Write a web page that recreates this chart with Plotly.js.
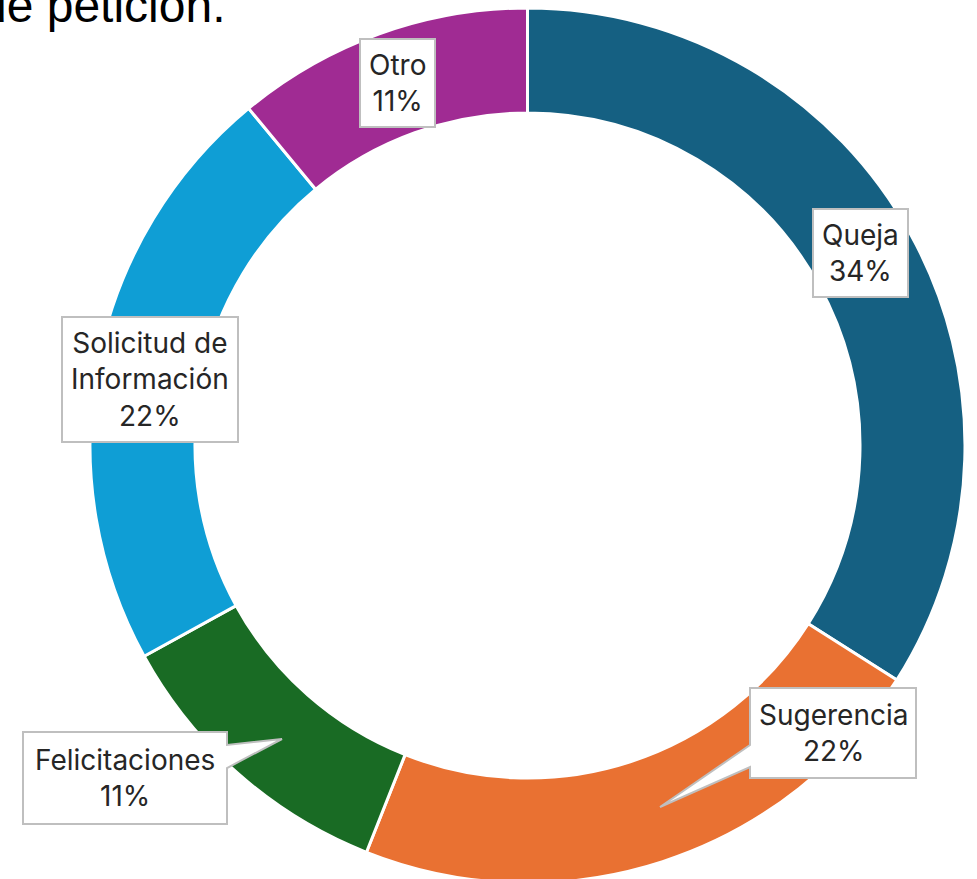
<!DOCTYPE html>
<html>
<head>
<meta charset="utf-8">
<script src="https://cdn.plot.ly/plotly-3.0.1.min.js"></script>
<style>
html,body{margin:0;padding:0;overflow:hidden;background:#fff;}
#chart{width:977px;height:890px;}
</style>
</head>
<body>
<div id="chart"></div>
<script>
// ---- data ----
const categories = ['Queja', 'Sugerencia', 'Felicitaciones', 'Solicitud de Información', 'Otro'];
const labelLines = ['Queja', 'Sugerencia', 'Felicitaciones', 'Solicitud de<br>Información', 'Otro'];
const values = [34, 22, 11, 22, 11];
const colors = ['#156082', '#E97132', '#196B24', '#0F9ED5', '#A02B93'];
const titleText = 'de petición.';

// ---- layout helpers (pixel -> paper) ----
const W = 977, H = 890;
const px = x => x / W;
const py = y => 1 - y / H;

const total = values.reduce((a, b) => a + b, 0);
const pct = values.map(v => Math.round(v / total * 100) + '%');

// label box centres (pixels) and whether a callout pointer is drawn
const labelPos = [
  {x: 860, y: 253, callout: null},
  {x: 833, y: 733, callout: 'M750,688 L916,688 L916,778 L750,778 L750,767 L660,807 L750,745 Z'},
  {x: 125, y: 778, callout: 'M23,732 L227,732 L227,745 L282,739 L227,768 L227,824 L23,824 Z'},
  {x: 150, y: 379, callout: null},
  {x: 397, y: 83, callout: null}
];

function toPaperPath(p) {
  return p.replace(/(-?\d+(?:\.\d+)?),(-?\d+(?:\.\d+)?)/g,
    (m, a, b) => px(+a).toFixed(5) + ',' + py(+b).toFixed(5));
}

const labelFont = {family: 'Inter, "Noto Sans", sans-serif', size: 28, color: '#262626'};

const annotations = categories.map((c, i) => {
  const p = labelPos[i];
  const a = {
    xref: 'paper', yref: 'paper', x: px(p.x), y: py(p.y),
    xanchor: 'center', yanchor: 'middle',
    text: labelLines[i] + '<br>' + pct[i],
    showarrow: false, font: labelFont, align: 'center',
    borderpad: 8
  };
  if (!p.callout) {
    a.bgcolor = '#ffffff';
    a.bordercolor = '#bfbfbf';
    a.borderwidth = 2;
  }
  return a;
});

annotations.push({
  xref: 'paper', yref: 'paper', x: px(-22), y: py(5),
  xanchor: 'left', yanchor: 'middle', showarrow: false,
  text: titleText,
  font: {family: '"Liberation Sans", Arial, sans-serif', size: 48, color: '#000000'}
});

const shapes = labelPos.filter(p => p.callout).map(p => ({
  type: 'path', xref: 'paper', yref: 'paper', layer: 'above',
  path: toPaperPath(p.callout),
  fillcolor: '#ffffff',
  line: {color: '#bfbfbf', width: 2}
}));

const trace = {
  type: 'pie',
  labels: categories,
  values: values,
  sort: false,
  direction: 'clockwise',
  rotation: 0,
  hole: 0.76,
  textinfo: 'none',
  hoverinfo: 'label+percent',
  marker: {colors: colors, line: {color: '#ffffff', width: 3}},
  domain: {x: [px(90), px(965)], y: [py(883), py(8)]},
  showlegend: false
};

const layout = {
  width: W, height: H,
  margin: {l: 0, r: 0, t: 0, b: 0, pad: 0},
  paper_bgcolor: '#ffffff',
  plot_bgcolor: '#ffffff',
  showlegend: false,
  annotations: annotations,
  shapes: shapes
};

Plotly.newPlot('chart', [trace], layout, {displayModeBar: false, staticPlot: true});
</script>
</body>
</html>
